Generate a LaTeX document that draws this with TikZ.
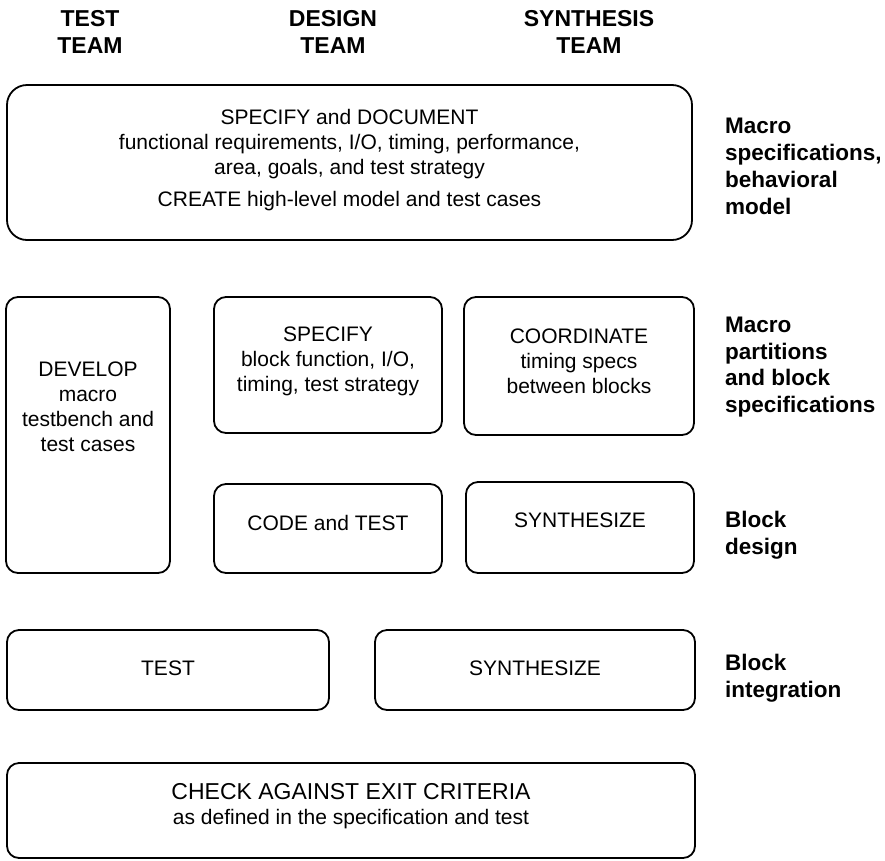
\documentclass[tikz,border=0pt]{standalone}
\usepackage{fontspec}
\setmainfont{Liberation Sans}
\begin{document}
\begin{tikzpicture}[x=1pt,y=-1pt,
  box/.style={draw, line width=1.8pt, rounded corners=12pt, inner sep=0pt},
  bigbox/.style={box, rounded corners=20pt},
  body/.style={align=center, inner sep=0pt, font=\fontsize{21}{25}\selectfont},
  side/.style={align=left, anchor=west, inner sep=0pt, font=\bfseries\fontsize{22.5}{26.8}\selectfont},
  team/.style={align=center, inner sep=0pt, font=\bfseries\fontsize{23}{27}\selectfont}]
\useasboundingbox (0,0) rectangle (885,860);

% team headings
\node[team] (hTest)   at (90,31.5)  {TEST\\TEAM};
\node[team] (hDesign) at (333,31.5) {DESIGN\\TEAM};
\node[team] (hSynth)  at (589,31.5) {SYNTHESIS\\TEAM};

% macro specification
\node[bigbox, minimum width=685pt, minimum height=155pt] (spec) at (349.5,162.5) {};
\node[body] (specTxt) at (349.5,160) {SPECIFY and DOCUMENT\\functional requirements, I/O, timing, performance,\\area, goals, and test strategy\\[7pt]CREATE high-level model and test cases};

% partitions and block specifications
\node[box, minimum width=164pt, minimum height=276pt] (develop) at (88,435) {};
\node[body] (developTxt) at (88,406.5) {DEVELOP\\macro\\testbench and\\test cases};

\node[box, minimum width=228pt, minimum height=136pt] (blockSpec) at (328,365) {};
\node[body] (blockSpecTxt) at (328,361.5) {SPECIFY\\block function, I/O,\\timing, test strategy};

\node[box, minimum width=230pt, minimum height=138pt] (coord) at (579,366) {};
\node[body] (coordTxt) at (579,361.5) {COORDINATE\\timing specs\\between blocks};

% block design
\node[box, minimum width=228pt, minimum height=89pt] (code) at (328,528.5) {};
\node[body] (codeTxt) at (328,523) {CODE and TEST};

\node[box, minimum width=228pt, minimum height=91pt] (synthBlock) at (580,527.5) {};
\node[body] (synthBlockTxt) at (580,520) {SYNTHESIZE};

% block integration
\node[box, minimum width=322pt, minimum height=80pt] (intTest) at (168,670) {};
\node[body] (intTestTxt) at (168,668) {TEST};

\node[box, minimum width=320pt, minimum height=80pt] (intSynth) at (535,670) {};
\node[body] (intSynthTxt) at (535,668) {SYNTHESIZE};

% exit check
\node[box, minimum width=688pt, minimum height=95pt] (check) at (351,810.5) {};
\node[body] (checkTxt) at (351,806.5) {\fontsize{23}{27}\selectfont CHECK AGAINST EXIT CRITERIA\\as defined in the specification and test};

% phase labels
\node[side] (lSpec)  at (725,166.5) {Macro\\specifications,\\behavioral\\model};
\node[side] (lPart)  at (725,367)   {Macro\\partitions\\and block\\specifications};
\node[side] (lDes)   at (725,535)   {Block\\design};
\node[side] (lInt)   at (725,678.5) {Block\\integration};
\end{tikzpicture}
\end{document}
